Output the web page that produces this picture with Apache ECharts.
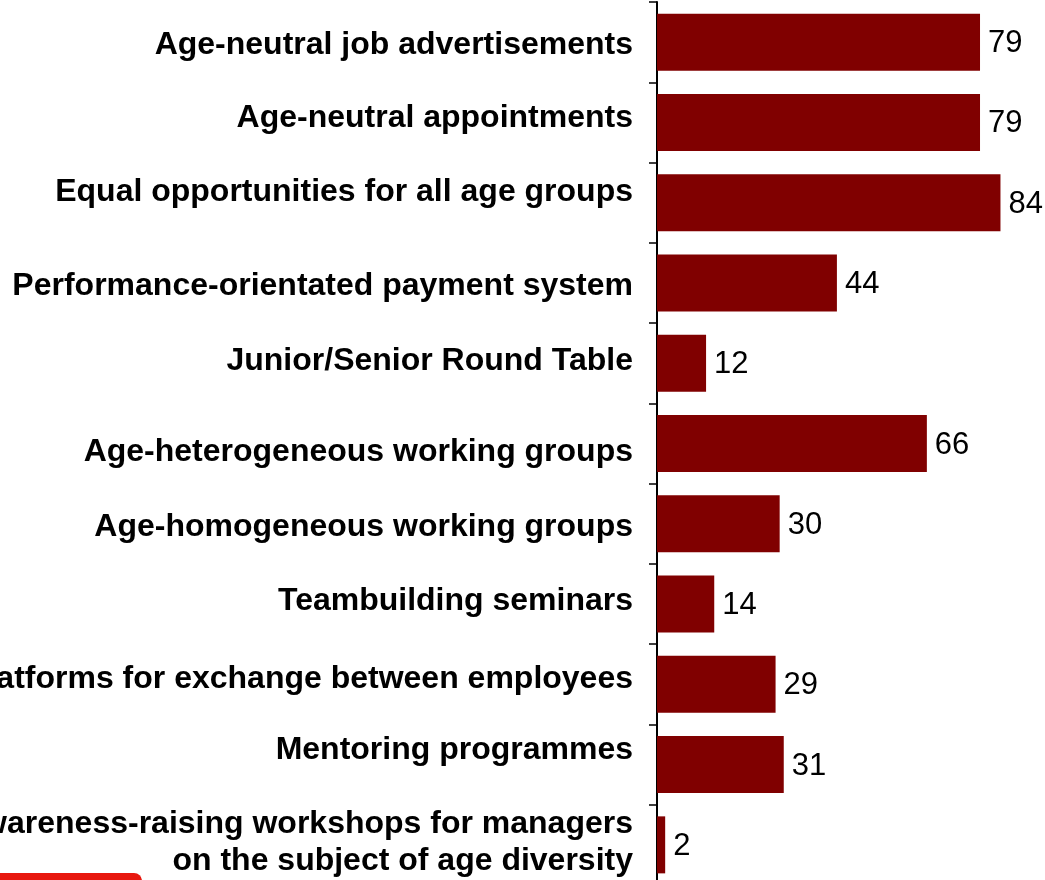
<!DOCTYPE html>
<html>
<head>
<meta charset="utf-8">
<script src="https://cdn.jsdelivr.net/npm/echarts@6/dist/echarts.min.js"></script>
<style>
  html, body { margin: 0; padding: 0; background: #ffffff; }
  #chart { width: 1045px; height: 880px; }
</style>
</head>
<body>
<div id="chart"></div>
<script>
// Measures and share of companies using them (%)
const categories = [
  'Age-neutral job advertisements',
  'Age-neutral appointments',
  'Equal opportunities for all age groups',
  'Performance-orientated payment system',
  'Junior/Senior Round Table',
  'Age-heterogeneous working groups',
  'Age-homogeneous working groups',
  'Teambuilding seminars',
  'Platforms for exchange between employees',
  'Mentoring programmes',
  'Awareness-raising workshops for managers\non the subject of age diversity'
];
const values = [79, 79, 84, 44, 12, 66, 30, 14, 29, 31, 2];

// Per-label vertical nudge in px (positive = down); the category labels sit a little off their bands
const labelNudge = [3, -4, -11, 3, -2, 9, 3, -3, -5, -14, -2];

const FONT = '"Liberation Sans", Arial, Helvetica, sans-serif';

// Category entries carry their own padding so each label can be nudged up or down
const axisItems = categories.map((name, i) => {
  const d = labelNudge[i];
  return {
    value: name,
    textStyle: {
      padding: [Math.max(2 * d, 0), 0, Math.max(-2 * d, 0), 0]
    }
  };
});

const chart = echarts.init(document.getElementById('chart'), null, { renderer: 'canvas' });

chart.setOption({
  animation: false,
  backgroundColor: '#ffffff',
  grid: {
    left: 657,
    right: 20,
    top: 2,
    bottom: -5,
    containLabel: false,
    outerBoundsMode: 'none'
  },
  xAxis: {
    type: 'value',
    min: 0,
    max: 90,
    show: false
  },
  yAxis: {
    type: 'category',
    inverse: true,
    data: axisItems,
    axisLine: { show: true, lineStyle: { color: '#000000', width: 2 } },
    axisTick: { show: true, length: 8, lineStyle: { color: '#000000', width: 1.5 } },
    axisLabel: {
      interval: 0,
      showMinLabel: true,
      showMaxLabel: true,
      margin: 24,
      fontFamily: FONT,
      fontSize: 32,
      fontWeight: 'bold',
      color: '#000000',
      align: 'right',
      lineHeight: 37.5,
      // rich text so that the padding shifts the text block
      formatter: (value) => '{t|' + value + '}',
      rich: { t: {} }
    },
    splitLine: { show: false }
  },
  series: [{
    type: 'bar',
    data: values,
    barWidth: 57,
    itemStyle: { color: '#800000' },
    label: {
      show: true,
      position: 'right',
      distance: 8,
      offset: [0, 1.5],
      fontFamily: FONT,
      fontSize: 31,
      color: '#000000'
    }
  }],
  graphic: [{
    type: 'rect',
    z: 100,
    shape: { x: -10, y: 873, width: 152, height: 40, r: 8 },
    style: { fill: '#e8180f' }
  }]
});
</script>
</body>
</html>
